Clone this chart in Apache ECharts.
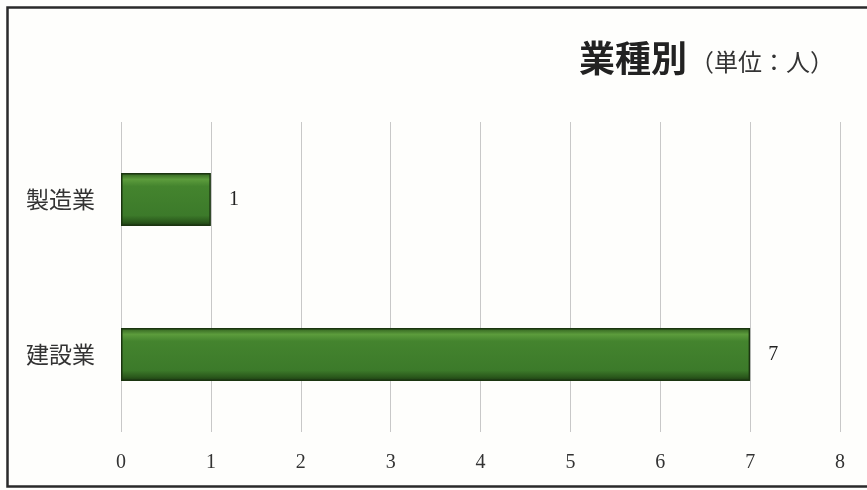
<!DOCTYPE html>
<html><head><meta charset="utf-8">
<script src="https://cdn.jsdelivr.net/npm/echarts@6/dist/echarts.min.js"></script>
<style>html,body{margin:0;padding:0;background:#fff}#c{width:867px;height:490px}</style>
</head><body><div id="c"></div>
<script>
const categories = ['建設業', '製造業'];
const values = [7, 1];
const xTicks = [0, 1, 2, 3, 4, 5, 6, 7, 8];

const chart = echarts.init(document.getElementById('c'));
const jp = '"Noto Sans CJK JP", sans-serif';
const serif = '"Liberation Serif", "DejaVu Serif", serif';
chart.setOption({
  backgroundColor: '#fefefc',
  animation: false,
  graphic: [
    { type: 'rect', shape: { x: 7.5, y: 7.5, width: 880, height: 479 }, style: { fill: 'none', stroke: '#2a2a2a', lineWidth: 2.5 } },
    { type: 'text', left: 579, top: 40, style: { text: '業種別', font: 'bold 36px "Noto Sans CJK JP"', fill: '#222' } },
    { type: 'text', left: 690, top: 50, style: { text: '（単位：人）', font: '24px "Noto Sans CJK JP"', fill: '#333' } }
  ],
  grid: { left: 121, right: 27, top: 122, bottom: 58 },
  xAxis: {
    type: 'value', min: 0, max: 8, interval: 1,
    axisLine: { show: false }, axisTick: { show: false },
    splitLine: { show: true, lineStyle: { color: '#c8c8c8', width: 1 } },
    axisLabel: { margin: 21, fontFamily: serif, fontSize: 20, color: '#333',
      formatter: v => xTicks.includes(v) ? String(v) : '' }
  },
  yAxis: {
    type: 'category', data: categories,
    axisLine: { show: false }, axisTick: { show: false },
    axisLabel: { margin: 26, fontFamily: jp, fontSize: 23, color: '#333' }
  },
  series: [{
    type: 'bar', data: values, barWidth: 53,
    itemStyle: {
      color: new echarts.graphic.LinearGradient(0, 0, 0, 1, [
        { offset: 0, color: '#2f5e1e' },
        { offset: 0.12, color: '#5c9c3c' },
        { offset: 0.25, color: '#44842e' },
        { offset: 0.8, color: '#3c7a2a' },
        { offset: 0.92, color: '#2b5a1c' },
        { offset: 1, color: '#1c3a12' }
      ]),
      borderColor: '#1b3510', borderWidth: 1.5
    },
    label: { show: true, position: 'right', distance: 18, fontFamily: serif, fontSize: 20, color: '#222' }
  }]
});
</script></body></html>
